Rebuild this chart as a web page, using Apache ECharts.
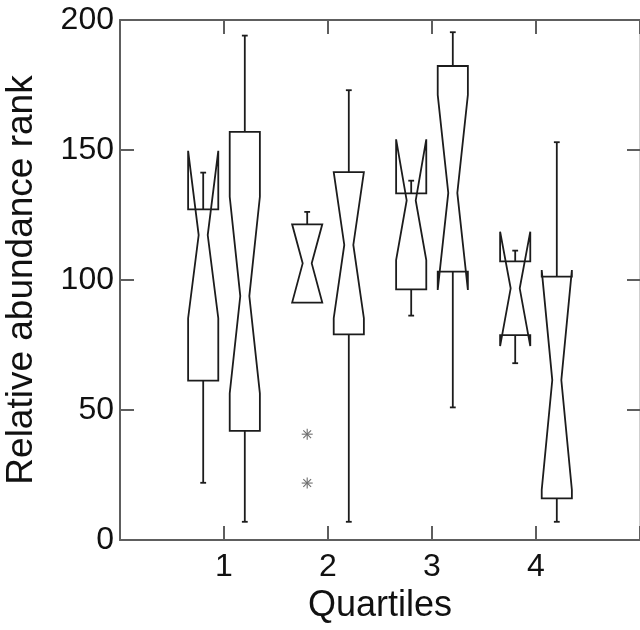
<!DOCTYPE html>
<html>
<head>
<meta charset="utf-8">
<title>Relative abundance rank by quartile</title>
<script src="https://cdn.jsdelivr.net/npm/echarts@6/dist/echarts.min.js"></script>
<style>
  html, body { margin: 0; padding: 0; background: #fff; }
  #chart { width: 640px; height: 630px; }
</style>
</head>
<body>
<div id="chart"></div>
<script>
// quartile categories, two boxes per quartile
const categories = [1, 2, 3, 4];
// box stats (order: Q1-a, Q1-b, Q2-a, Q2-b, ...)
const whiskerLow = [22, 7, 91.3, 7, 86.3, 51, 68, 7];
const q1 = [61.3, 42, 91.3, 79.1, 96.4, 103.2, 78.8, 16];
const notchLow = [85.3, 56.4, 91.3, 85.3, 107.7, 96.2, 74.6, 19.3];
const median = [117.3, 93.8, 106.4, 113.5, 130.6, 133.5, 96.8, 61.5];
const notchHigh = [149.7, 132, 121.4, 141.5, 154.1, 171.2, 118.6, 103.8];
const q3 = [127.2, 157, 121.4, 141.5, 133.3, 182.3, 107.2, 101.3];
const whiskerHigh = [141.3, 194, 126.2, 173, 138.2, 195.3, 111.3, 153];
// outliers: which box they belong to, and their value
const outlierBox = [2, 2];
const outlierValue = [40.7, 21.9];

const yTicks = [0, 50, 100, 150, 200];

// layout constants
const boxOffset = [-0.2, 0.2];
const halfWidth = 0.145;
const waistRatio = 0.3;
const capHalf = 0.028;
const lineColor = '#1c1c1c';
const axisColor = '#5e5e5e';

function boxX(i) {
  return categories[Math.floor(i / 2)] + boxOffset[i % 2];
}

const boxData = q1.map((_, i) => [
  boxX(i), whiskerLow[i], q1[i], notchLow[i], median[i], notchHigh[i], q3[i], whiskerHigh[i]
]);
const outlierData = outlierBox.map((b, i) => [boxX(b), outlierValue[i]]);

const chart = echarts.init(document.getElementById('chart'));

function renderBox(params, api) {
  const x = api.value(0);
  const wLo = api.value(1), lo = api.value(2), nLo = api.value(3), med = api.value(4);
  const nHi = api.value(5), hi = api.value(6), wHi = api.value(7);
  const ww = halfWidth * waistRatio;
  const P = (dx, v) => api.coord([x + dx, v]);
  const style = { stroke: lineColor, lineWidth: 1.8, fill: null, lineJoin: 'miter' };
  const children = [{
    type: 'polygon',
    shape: {
      points: [
        P(-halfWidth, lo), P(-halfWidth, nLo), P(-ww, med), P(-halfWidth, nHi), P(-halfWidth, hi),
        P(halfWidth, hi), P(halfWidth, nHi), P(ww, med), P(halfWidth, nLo), P(halfWidth, lo)
      ]
    },
    style: style
  }];
  const seg = (a, b) => ({
    type: 'line',
    shape: { x1: a[0], y1: a[1], x2: b[0], y2: b[1] },
    style: { stroke: lineColor, lineWidth: 1.8 }
  });
  if (wHi > hi) {
    children.push(seg(P(0, hi), P(0, wHi)));
    children.push(seg(P(-capHalf, wHi), P(capHalf, wHi)));
  }
  if (wLo < lo) {
    children.push(seg(P(0, lo), P(0, wLo)));
    children.push(seg(P(-capHalf, wLo), P(capHalf, wLo)));
  }
  return { type: 'group', children: children };
}

function renderStar(params, api) {
  const c = api.coord([api.value(0), api.value(1)]);
  const r = 5.5;
  const children = [];
  for (let k = 0; k < 4; k++) {
    const a = k * Math.PI / 4;
    const dx = r * Math.cos(a), dy = r * Math.sin(a);
    children.push({
      type: 'line',
      shape: { x1: c[0] - dx, y1: c[1] - dy, x2: c[0] + dx, y2: c[1] + dy },
      style: { stroke: '#6e6e6e', lineWidth: 1.1 }
    });
  }
  return { type: 'group', children: children };
}

const font = 'Liberation Sans, Arial, sans-serif';
const tickStyle = { color: axisColor, width: 2 };

const option = {
  animation: false,
  backgroundColor: '#fff',
  grid: { left: 120, right: 0, top: 20, bottom: 90, outerBoundsMode: 'none' },
  xAxis: [
    {
      type: 'value',
      min: 0,
      max: 5,
      interval: 1,
      name: 'Quartiles',
      nameLocation: 'middle',
      nameGap: 48,
      nameTextStyle: { fontSize: 36, color: '#111', fontFamily: font },
      axisLine: { onZero: false, lineStyle: tickStyle },
      axisTick: { inside: true, length: 14, lineStyle: tickStyle },
      axisLabel: {
        fontSize: 32, color: '#111', fontFamily: font, margin: 11,
        formatter: v => (categories.indexOf(v) >= 0 ? String(v) : '')
      },
      splitLine: { show: false }
    },
    {
      type: 'value',
      position: 'top',
      min: 0,
      max: 5,
      interval: 1,
      axisLine: { onZero: false, lineStyle: tickStyle },
      axisTick: { inside: true, length: 14, lineStyle: tickStyle },
      axisLabel: { show: false },
      splitLine: { show: false }
    }
  ],
  yAxis: [
    {
      type: 'value',
      position: 'left',
      min: yTicks[0],
      max: yTicks[yTicks.length - 1],
      interval: 50,
      name: 'Relative abundance rank',
      nameLocation: 'middle',
      nameGap: 80,
      nameTextStyle: { fontSize: 37, color: '#111', fontFamily: font },
      axisLine: { show: true, onZero: false, lineStyle: tickStyle },
      axisTick: { show: true, inside: true, length: 14, lineStyle: tickStyle },
      axisLabel: { fontSize: 32, color: '#111', fontFamily: font, margin: 6 },
      splitLine: { show: false }
    },
    {
      type: 'value',
      position: 'right',
      min: yTicks[0],
      max: yTicks[yTicks.length - 1],
      interval: 50,
      axisLine: { show: true, onZero: false, lineStyle: { color: '#cfcfcf', width: 2 } },
      axisTick: { show: true, inside: true, length: 13, lineStyle: tickStyle },
      axisLabel: { show: false },
      splitLine: { show: false }
    }
  ],
  series: [
    {
      type: 'custom',
      name: 'boxes',
      renderItem: renderBox,
      encode: { x: 0, y: [1, 2, 3, 4, 5, 6, 7] },
      data: boxData,
      clip: false
    },
    {
      type: 'custom',
      name: 'outliers',
      renderItem: renderStar,
      encode: { x: 0, y: 1 },
      data: outlierData
    }
  ]
};

chart.setOption(option);
window.addEventListener('resize', () => chart.resize());
</script>
</body>
</html>
